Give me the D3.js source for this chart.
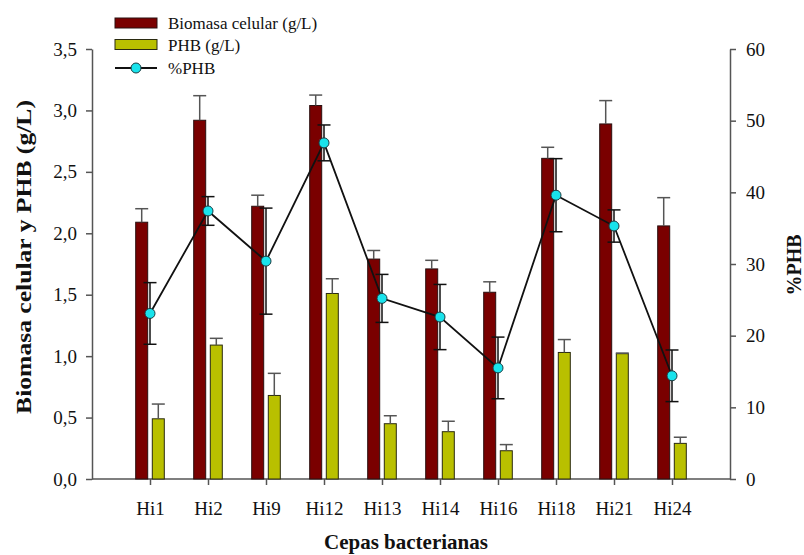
<!DOCTYPE html>
<html>
<head>
<meta charset="utf-8">
<script src="https://cdn.jsdelivr.net/npm/d3@7"></script>
<style>
  html, body { margin: 0; padding: 0; background: #fff; }
  svg { display: block; }
  text { font-family: "Liberation Serif", "Times New Roman", serif; fill: #111; }
</style>
</head>
<body>
<svg id="chart" width="804" height="555"></svg>
<script>
const categories = ["Hi1","Hi2","Hi9","Hi12","Hi13","Hi14","Hi16","Hi18","Hi21","Hi24"];
const biomasa    = [2.09, 2.92, 2.22, 3.04, 1.79, 1.71, 1.52, 2.61, 2.89, 2.06];
const biomasaErr = [0.11, 0.20, 0.09, 0.085, 0.07, 0.07, 0.085, 0.09, 0.19, 0.23];
const phb        = [0.49, 1.09, 0.68, 1.51, 0.45, 0.385, 0.23, 1.03, 1.02, 0.29];
const phbErr     = [0.12, 0.055, 0.18, 0.12, 0.065, 0.085, 0.05, 0.105, 0.005, 0.05];
const pctPHB     = [23.1, 37.4, 30.4, 46.9, 25.2, 22.6, 15.5, 39.6, 35.3, 14.4];
const pctErr     = [4.3, 2.0, 7.4, 2.5, 3.35, 4.55, 4.3, 5.1, 2.25, 3.6];
const leftTicks  = [0, 0.5, 1.0, 1.5, 2.0, 2.5, 3.0, 3.5];
const rightTicks = [0, 10, 20, 30, 40, 50, 60];
const legendLabels = ["Biomasa celular (g/L)", "PHB (g/L)", "%PHB"];

const svg = d3.select("#chart");
const L = 92, R = 730, T = 49, B = 479;
const axisColor = "#555";
const redColor = "#7a0000", oliveColor = "#b9c000", cyanColor = "#19e3ec";

const x = d3.scalePoint().domain(categories).range([L, R]).padding(1);
const yL = d3.scaleLinear().domain([0, 3.5]).range([B, T]);
const yR = d3.scaleLinear().domain([0, 60]).range([B, T]);

const barW = 12, gap = 2.3;
const fmt = d => d3.format(".1f")(d).replace(".", ",");

// Axes
const gL = svg.append("g").attr("transform", `translate(${L},0)`)
  .call(d3.axisLeft(yL).tickValues(leftTicks).tickFormat(fmt).tickSize(6).tickPadding(9).tickSizeOuter(0));
const gR = svg.append("g").attr("transform", `translate(${R},0)`)
  .call(d3.axisRight(yR).tickValues(rightTicks).tickSize(6).tickPadding(10).tickSizeOuter(0));
const gB = svg.append("g").attr("transform", `translate(0,${B})`)
  .call(d3.axisBottom(x).tickSize(6).tickPadding(17).tickSizeOuter(0));
gB.select(".domain").attr("d", `M${L},0H${R}`);
[gL, gR, gB].forEach(g => {
  g.attr("font-family", '"Liberation Serif", serif');
  g.selectAll(".domain, .tick line").attr("stroke", axisColor).attr("stroke-width", 1.5);
  g.selectAll(".tick text").style("font-family", '"Liberation Serif", serif').style("font-size", "19px").attr("fill", "#111");
});

// Bars
const idx = d3.range(categories.length);
svg.append("g").selectAll("rect").data(idx).join("rect")
  .attr("x", i => x(categories[i]) - gap - barW)
  .attr("y", i => yL(biomasa[i]))
  .attr("width", barW)
  .attr("height", i => B - yL(biomasa[i]))
  .attr("fill", redColor).attr("stroke", "#2a1010").attr("stroke-width", 1);
svg.append("g").selectAll("rect").data(idx).join("rect")
  .attr("x", i => x(categories[i]) + gap)
  .attr("y", i => yL(phb[i]))
  .attr("width", barW)
  .attr("height", i => B - yL(phb[i]))
  .attr("fill", oliveColor).attr("stroke", "#2a2a10").attr("stroke-width", 1);

// Bar error bars (upper only)
function upperErr(g, cx, yTop, yCap) {
  g.append("line").attr("x1", cx).attr("x2", cx).attr("y1", yTop).attr("y2", yCap);
  g.append("line").attr("x1", cx - 6.5).attr("x2", cx + 6.5).attr("y1", yCap).attr("y2", yCap);
}
const ge = svg.append("g").attr("stroke", "#555").attr("stroke-width", 1.5);
idx.forEach(i => {
  const cr = x(categories[i]) - gap - barW / 2;
  upperErr(ge, cr, yL(biomasa[i]), yL(biomasa[i] + biomasaErr[i]));
  const co = x(categories[i]) + gap + barW / 2;
  upperErr(ge, co, yL(phb[i]), yL(phb[i] + phbErr[i]));
});

// %PHB line
svg.append("path")
  .datum(idx)
  .attr("fill", "none").attr("stroke", "#111").attr("stroke-width", 1.8)
  .attr("d", d3.line().x(i => x(categories[i])).y(i => yR(pctPHB[i])));

const gp = svg.append("g").attr("stroke", "#111").attr("stroke-width", 1.5);
idx.forEach(i => {
  const cx = x(categories[i]);
  const y1 = yR(pctPHB[i] + pctErr[i]), y2 = yR(pctPHB[i] - pctErr[i]);
  gp.append("line").attr("x1", cx).attr("x2", cx).attr("y1", y1).attr("y2", y2);
  gp.append("line").attr("x1", cx - 6.5).attr("x2", cx + 6.5).attr("y1", y1).attr("y2", y1);
  gp.append("line").attr("x1", cx - 6.5).attr("x2", cx + 6.5).attr("y1", y2).attr("y2", y2);
});
svg.append("g").selectAll("circle").data(idx).join("circle")
  .attr("cx", i => x(categories[i]))
  .attr("cy", i => yR(pctPHB[i]))
  .attr("r", 5)
  .attr("fill", cyanColor).attr("stroke", "#1b3b40").attr("stroke-width", 1);

// Axis titles
svg.append("text")
  .attr("transform", `translate(31,257) rotate(-90) scale(1.22,1)`)
  .attr("text-anchor", "middle")
  .style("font-size", "21px").style("font-weight", "bold")
  .text("Biomasa celular y PHB (g/L)");
svg.append("text")
  .attr("transform", `translate(801,${(T + B) / 2 + 1}) rotate(-90)`)
  .attr("text-anchor", "middle")
  .style("font-size", "20px").style("font-weight", "bold")
  .text("%PHB");
svg.append("text")
  .attr("x", 406).attr("y", 549)
  .attr("text-anchor", "middle")
  .style("font-size", "21px").style("font-weight", "bold")
  .text("Cepas bacterianas");

// Legend
const lg = svg.append("g");
lg.append("rect").attr("x", 115).attr("y", 18).attr("width", 42).attr("height", 10)
  .attr("fill", redColor).attr("stroke", "#2a1010").attr("stroke-width", 1);
lg.append("rect").attr("x", 115).attr("y", 39.5).attr("width", 42).attr("height", 10)
  .attr("fill", oliveColor).attr("stroke", "#2a2a10").attr("stroke-width", 1);
lg.append("line").attr("x1", 115).attr("x2", 157).attr("y1", 68).attr("y2", 68)
  .attr("stroke", "#111").attr("stroke-width", 1.8);
lg.append("circle").attr("cx", 136).attr("cy", 68).attr("r", 5)
  .attr("fill", cyanColor).attr("stroke", "#1b3b40").attr("stroke-width", 1);
[23, 45, 68].forEach((yy, k) => {
  lg.append("text").attr("x", 168).attr("y", yy).attr("dy", "0.35em")
    .style("font-size", "17px").text(legendLabels[k]);
});
</script>
</body>
</html>
